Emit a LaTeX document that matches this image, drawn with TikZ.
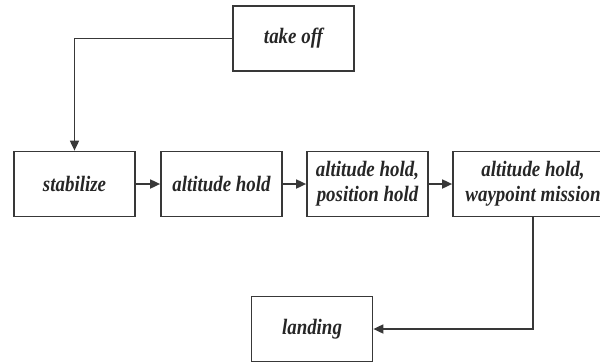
\documentclass[tikz,border=0pt]{standalone}
\usepackage{fontspec}
\setmainfont{Liberation Serif}
\newfontfamily\modefont{Liberation Serif}[FakeStretch=0.86]
\usetikzlibrary{arrows.meta}

\begin{document}
\begin{tikzpicture}[x=1pt,y=-1pt,
  mode/.style={draw=black!78,line width=1.7pt,minimum width=121pt,minimum height=65pt,inner sep=2pt,align=center,text=black!85,font=\modefont\bfseries\itshape\fontsize{22}{25}\selectfont},
  flow/.style={draw=black!78,line width=1.7pt,-{Triangle[length=10pt,width=9pt]}}]
\path[use as bounding box] (0,0) rectangle (600,362);
% flight modes
\node[mode] (takeoff) at (293.5,38.5) {take off};
\node[mode] (stabilize) at (74.5,184) {stabilize};
\node[mode] (althold) at (221.5,184) {altitude hold};
\node[mode] (poshold) at (367.5,184) {altitude hold,\\position hold};
\node[mode,minimum width=160pt] (mission) at (533,184) {altitude hold,\\waypoint mission};
\node[mode] (landing) at (312,329) {landing};
% transitions
\draw[flow] (takeoff.west) -| (stabilize.north);
\draw[flow] (stabilize) -- (althold);
\draw[flow] (althold) -- (poshold);
\draw[flow] (poshold) -- (mission);
\draw[flow] (mission.south) |- (landing.east);
\end{tikzpicture}
\end{document}
